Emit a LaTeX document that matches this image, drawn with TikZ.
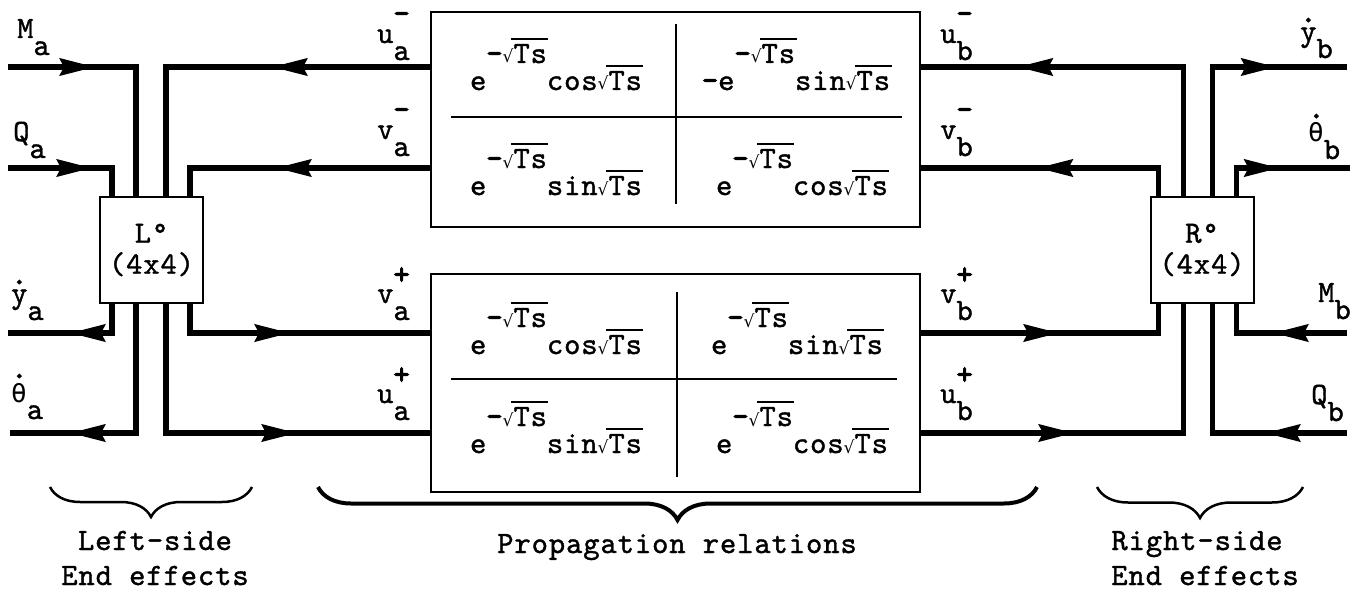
\documentclass[tikz,border=0pt]{standalone}
\usepackage{fontspec}
\usetikzlibrary{arrows.meta,decorations.markings,decorations.pathreplacing,calc}
% typewriter-style faces
\newfontfamily\tw{lmmono10-regular.otf}[LetterSpace=3,FakeBold=1.2]
\newfontfamily\twb{lmmono10-regular.otf}[LetterSpace=3,FakeBold=3]
\newfontfamily\dvs{DejaVu Sans}
\newfontfamily\grk{DejaVu Sans Mono}
% radical sign with its overline over "Ts"
\newcommand\sq{{\dvs\fontsize{17}{17}\selectfont √}}
\newcommand\rtTs{\sq\kern-2pt\rlap{\rule[23pt]{37pt}{1.8pt}}\kern2pt Ts}
% one matrix entry: e^{-sqrt(Ts)} f sqrt(Ts)
\newcommand\cell[1]{e\raisebox{27pt}{{\twb -}\rtTs}#1\rtTs}
% signal label: main letter, lowered index, optional mark above the index
\newcommand\lbl[3]{#1\rlap{#3}\raisebox{-17pt}{#2}}
\newcommand\mn{\raisebox{20pt}{\twb -}}
\newcommand\pl{\raisebox{19pt}{\twb +}}
\newcommand\dt[2]{\rlap{\raisebox{#1}{\twb .}}#2}
\newcommand\thgl{{\grk\fontsize{26}{26}\selectfont θ}}
\begin{document}
\begin{tikzpicture}[x=1pt,y=-1pt,
  font=\tw\fontsize{31}{31}\selectfont,
  flow/.style={line width=5.5pt, line join=miter},
  arr/.style={postaction={decorate,decoration={markings,
      mark=at position #1 with {\arrow{Stealth[length=35pt,width=17pt,inset=4pt]}}}}},
  ebox/.style={draw, line width=2pt, minimum width=103pt, minimum height=106pt,
      inner sep=0pt, align=center},
  mbox/.style={draw, line width=2pt, minimum width=489pt, inner sep=0pt},
  div/.style={line width=2.6pt},
  ent/.style={anchor=base, inner sep=0pt},
  lab/.style={anchor=base west, inner sep=0pt},
  brc/.style={decorate, decoration={brace, mirror, amplitude=#1}},
]
\fill[white] (0,0) rectangle (1362,591);

% end-effect blocks and propagation matrices
\node[ebox] (L) at (151.5,250) {L°\\(4x4)};
\node[ebox] (R) at (1202,250) {R°\\(4x4)};
\node[mbox, minimum height=215pt] (TB) at (675.5,119.5) {};
\node[mbox, minimum height=218pt] (BB) at (675.5,383) {};

% ports on the end-effect blocks
\coordinate (L1) at ($(L.north west)+(13,0)$);
\coordinate (L2) at ($(L.north west)+(37,0)$);
\coordinate (L3) at ($(L.north west)+(67,0)$);
\coordinate (L4) at ($(L.north west)+(91,0)$);
\coordinate (Lb1) at ($(L.south west)+(13,0)$);
\coordinate (Lb2) at ($(L.south west)+(37,0)$);
\coordinate (Lb3) at ($(L.south west)+(67,0)$);
\coordinate (Lb4) at ($(L.south west)+(91,0)$);
\coordinate (R1) at ($(R.north west)+(9,0)$);
\coordinate (R2) at ($(R.north west)+(34,0)$);
\coordinate (R3) at ($(R.north west)+(63,0)$);
\coordinate (R4) at ($(R.north west)+(87,0)$);
\coordinate (Rb1) at ($(R.south west)+(9,0)$);
\coordinate (Rb2) at ($(R.south west)+(34,0)$);
\coordinate (Rb3) at ($(R.south west)+(63,0)$);
\coordinate (Rb4) at ($(R.south west)+(87,0)$);

% free line ends
\coordinate (Ma) at (8,67);
\coordinate (Qa) at (8,168);
\coordinate (ya) at (8,333);
\coordinate (tha) at (10,433);
\coordinate (yb) at (1347,67);
\coordinate (thb) at (1350,168);
\coordinate (Mb) at (1347,333);
\coordinate (Qb) at (1347,433);

% left side
\draw[flow, arr=87pt] (Ma) -| (L2);
\draw[flow, arr=84pt] (Qa) -| (L1);
\draw[flow, arr=158pt] (TB.west |- Ma) -| (L3);
\draw[flow, arr=154pt] (TB.west |- Qa) -| (L4);
\draw[flow, arr=71pt] (Lb1) |- (ya);
\draw[flow, arr=195pt] (Lb2) |- (tha);
\draw[flow, arr=129pt] (Lb4) |- (BB.west |- ya);
\draw[flow, arr=260pt] (Lb3) |- (BB.west |- tha);

% right side
\draw[flow, arr=295pt] (R2) |- (TB.east |- yb);
\draw[flow, arr=149pt] (R1) |- (TB.east |- thb);
\draw[flow, arr=193pt] (R3) |- (yb);
\draw[flow, arr=71pt] (R4) |- (thb);
\draw[flow, arr=138pt] (BB.east |- Mb) -| (Rb1);
\draw[flow, arr=153pt] (BB.east |- Qb) -| (Rb2);
\draw[flow, arr=74pt] (Mb) -| (Rb4);
\draw[flow, arr=82pt] (Qb) -| (Rb3);

% matrix partitions
\draw[div] ($(TB.north west)+(21,106)$) -- ($(TB.north west)+(472,106)$);
\draw[div] ($(TB.north west)+(246,13)$) -- ($(TB.north west)+(246,193)$);
\draw[div] ($(BB.north west)+(21,106)$) -- ($(BB.north west)+(467,106)$);
\draw[div] ($(BB.north west)+(247,19)$) -- ($(BB.north west)+(247,204)$);

% matrix entries
\node[ent] (m11) at (556,90) {\cell{cos}};
\node[ent] (m12) at (796,90) {{\twb -}\cell{sin}};
\node[ent] (m21) at (556,195) {\cell{sin}};
\node[ent] (m22) at (802,195) {\cell{cos}};
\node[ent] (n11) at (556,354) {\cell{cos}};
\node[ent] (n12) at (797,354) {\cell{sin}};
\node[ent] (n21) at (556,453) {\cell{sin}};
\node[ent] (n22) at (802,453) {\cell{cos}};

% signal labels
\node[lab] (lMa) at (17,38) {\lbl{M}{a}{}};
\node[lab] (lQa) at (13,141) {\lbl{Q}{a}{}};
\node[lab] (lya) at (11,303) {\lbl{\dt{19pt}{y}}{a}{}};
\node[lab] (ltha) at (11,402) {\lbl{\dt{24pt}{\thgl}}{a}{}};
\node[lab] (lua1) at (377,43) {\lbl{u}{a}{\mn}};
\node[lab] (lva1) at (377,139) {\lbl{v}{a}{\mn}};
\node[lab] (lva2) at (377,303) {\lbl{v}{a}{\pl}};
\node[lab] (lua2) at (377,403) {\lbl{u}{a}{\pl}};
\node[lab] (lub1) at (940,43) {\lbl{u}{b}{\mn}};
\node[lab] (lvb1) at (940,139) {\lbl{v}{b}{\mn}};
\node[lab] (lvb2) at (940,303) {\lbl{v}{b}{\pl}};
\node[lab] (lub2) at (940,403) {\lbl{u}{b}{\pl}};
\node[lab] (lyb) at (1300,41) {\lbl{\dt{19pt}{y}}{b}{}};
\node[lab] (lthb) at (1308,142) {\lbl{\dt{24pt}{\thgl}}{b}{}};
\node[lab] (lMb) at (1318,302) {\lbl{M}{b}{}};
\node[lab] (lQb) at (1311,404) {\lbl{Q}{b}{}};

% grouping braces and captions
\draw[brc=30pt, line width=2.5pt] (50,487) -- (252,487);
\draw[brc=33pt, line width=4pt] (318,487) -- (1037,487);
\draw[brc=31pt, line width=2.5pt] (1097,487) -- (1303,487);
\node[ent] (t1) at (155,550) {Left-side};
\node[ent] (t2) at (155,585) {End effects};
\node[ent] (t3) at (677,553) {Propagation relations};
\node[ent] (t4) at (1197,550) {Right-side};
\node[ent] (t5) at (1205,585) {End effects};
\end{tikzpicture}
\end{document}
